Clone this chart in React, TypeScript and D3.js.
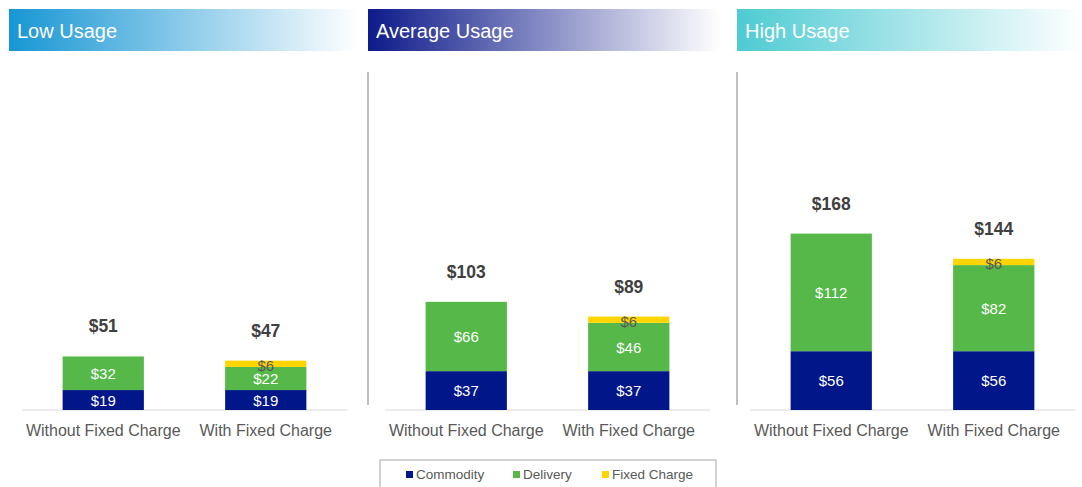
import React from "react";
import * as d3 from "d3";

const panels = ["Low Usage", "Average Usage", "High Usage"];
const categories = ["Without Fixed Charge", "With Fixed Charge"];
const seriesNames = ["Commodity", "Delivery", "Fixed Charge"];
// per panel, per category
const commodity = [[19, 19], [37, 37], [56, 56]];
const delivery = [[32, 22], [66, 46], [112, 82]];
const fixedCharge = [[0, 6], [0, 6], [0, 6]];
const totals = [[51, 47], [103, 89], [168, 144]];

const colors = ["#001689", "#55b848", "#ffd500"];
const headerColors = ["#1796d4", "#0d1a8a", "#4ecbd3"];

const W = 1082;
const H = 487;
const FONT = "'Liberation Sans', Arial, sans-serif";

const panelLayout = [
  { hx0: 9, hx1: 358, ax0: 22, ax1: 347 },
  { hx0: 368, hx1: 720, ax0: 385, ax1: 710 },
  { hx0: 737, hx1: 1082, ax0: 750, ax1: 1075 },
];

const y = d3.scaleLinear().domain([0, 200]).range([410, 200]);

export default function App() {
  return (
    <svg width={W} height={H} style={{ position: "absolute", left: 0, top: 0, background: "#fff" }} fontFamily={FONT}>
      <defs>
        {headerColors.map((c, i) => (
          <linearGradient key={i} id={`hg${i}`} x1="0" x2="1" y1="0" y2="0">
            <stop offset="0" stopColor={c} />
            <stop offset="1" stopColor="#ffffff" />
          </linearGradient>
        ))}
      </defs>
      <rect width={W} height={H} fill="#fff" />
      {panels.map((name, p) => {
        const L = panelLayout[p];
        const x = d3.scaleBand().domain(categories).range([L.ax0, L.ax1]).paddingInner(0.5).paddingOuter(0.25);
        const stackVals = [commodity[p], delivery[p], fixedCharge[p]];
        return (
          <g key={name}>
            <rect x={L.hx0} y={9} width={L.hx1 - L.hx0} height={42} fill={`url(#hg${p})`} />
            <text x={L.hx0 + 8} y={38} fill="#ffffff" fontSize={20}>{name}</text>
            {p > 0 && (
              <line x1={L.hx0} x2={L.hx0} y1={72} y2={405} stroke="#bfbfbf" strokeWidth={2} />
            )}
            <line x1={L.ax0} x2={L.ax1} y1={y(0)} y2={y(0)} stroke="#d9d9d9" strokeWidth={1} />
            {categories.map((cat, ci) => {
              let base = 0;
              const bx = x(cat)!;
              const bw = x.bandwidth();
              const segs = stackVals.map((vals, si) => {
                const v = vals[ci];
                const y0 = base;
                base += v;
                return { si, v, y0, y1: base };
              }).filter(s => s.v > 0);
              const top = y(totals[p][ci]);
              return (
                <g key={cat}>
                  {segs.map(s => (
                    <rect key={s.si} x={bx} width={bw} y={y(s.y1)} height={y(s.y0) - y(s.y1)} fill={colors[s.si]} />
                  ))}
                  {segs.map(s => (
                    <text key={"t" + s.si} x={bx + bw / 2} y={(y(s.y0) + y(s.y1)) / 2 + (s.si === 2 ? 7 : 5.5)}
                      textAnchor="middle" fontSize={15} fill={s.si === 2 ? "#595959" : "#ffffff"}>
                      ${s.v}
                    </text>
                  ))}
                  <text x={bx + bw / 2} y={top - 24} textAnchor="middle" fontSize={17.5} fontWeight="bold" fill="#404040">
                    ${totals[p][ci]}
                  </text>
                  <text x={bx + bw / 2} y={436} textAnchor="middle" fontSize={16} fill="#595959">{cat}</text>
                </g>
              );
            })}
          </g>
        );
      })}
      <rect x={380} y={460} width={336} height={40} fill="none" stroke="#a6a6a6" strokeWidth={1} />
      {seriesNames.map((s, i) => {
        const lx = [406, 513, 602][i];
        return (
          <g key={s}>
            <rect x={lx} y={471} width={7} height={7} fill={colors[i]} />
            <text x={lx + 10} y={479} fontSize={13.5} fill="#595959">{s}</text>
          </g>
        );
      })}
    </svg>
  );
}
